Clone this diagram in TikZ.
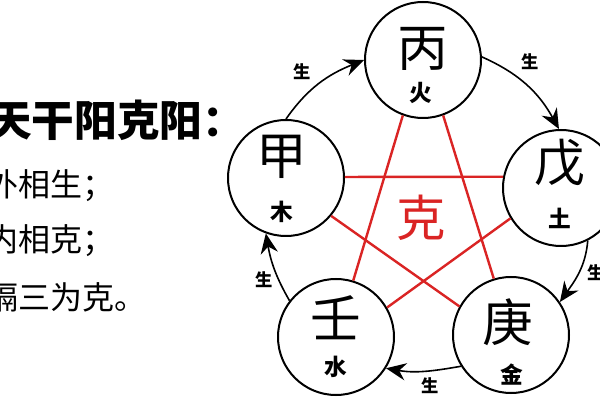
\documentclass[tikz,border=0pt]{standalone}
\usepackage{fontspec}
\newfontfamily\cjk{Noto Sans CJK SC}
\usetikzlibrary{arrows.meta}
\definecolor{kered}{HTML}{DA2424}
\begin{document}
\begin{tikzpicture}[x=0.75pt,y=0.75pt,
  every node/.style={font=\cjk, inner sep=0pt},
  elem/.style={draw=black, line width=1.5pt, circle, minimum size=87pt},
  bigch/.style={font=\cjk\fontsize{38pt}{38pt}\selectfont},
  smallch/.style={font=\cjk\bfseries\fontsize{17pt}{17pt}\selectfont},
  sheng/.style={font=\cjk\bfseries\fontsize{13pt}{13pt}\selectfont},
  genarrow/.style={draw=black, line width=1.2pt, -{Stealth[length=15pt,width=13pt,inset=5pt]}},
  kline/.style={draw=kered, line width=1.8pt},
  leftline/.style={anchor=west, font=\cjk\fontsize{24pt}{24pt}\selectfont}
]
\useasboundingbox (0,0) rectangle (600,400);
\fill[white] (0,0) rectangle (600,400);

% circles
\node[elem] (bing) at (423,340) {};
\node[elem] (jia)  at (286,222) {};
\node[elem] (wu)   at (561,212) {};
\node[elem] (ren)  at (336,63) {};
\node[elem] (geng) at (511,65) {};

% red pentagram
\draw[kline] (bing.-110) -- (ren.73);
\draw[kline] (bing.-70) -- (geng.107);
\draw[kline] (jia.1) -- (wu.169);
\draw[kline] (jia.-40) -- (geng.151);
\draw[kline] (wu.-149) -- (ren.30);

% characters
\node[bigch] (bingc) at (423,351) {丙};
\node[smallch] (binge) at (421,307) {火};
\node[bigch] (jiac) at (282,243) {甲};
\node[smallch] (jiae) at (282,188) {木};
\node[bigch] (wuc) at (560,237) {戊};
\node[smallch] (wue) at (560,182) {土};
\node[bigch] (renc) at (336,82) {壬};
\node[smallch] (rene) at (336,33) {水};
\node[bigch] (gengc) at (508,78) {庚};
\node[smallch] (innge) at (512,25) {金};
\node[font=\cjk\fontsize{37pt}{37pt}\selectfont, text=kered] (ke) at (421,182) {克};

% generating arrows
\draw[genarrow] (jia.90) to[out=55,in=202] (bing.180);
\draw[genarrow] (bing.3) to[out=-24,in=119] (wu.92);
\draw[genarrow] (wu.-63) to[out=-95,in=55] (geng.34);
\draw[genarrow] (geng.-148) to[out=190,in=-10] (ren.-32);
\draw[genarrow] (ren.142) to[out=120,in=-80] (jia.-110);

% labels
\node[sheng] (s1) at (302,328) {生};
\node[sheng] (s2) at (530,338) {生};
\node[sheng] (s3) at (596,127) {生};
\node[sheng] (s4) at (430,14) {生};
\node[sheng] (s5) at (264,120) {生};

% left text
\node[anchor=west, font=\cjk\bfseries\fontsize{32pt}{32pt}\selectfont] (title) at (-11,280) {天干阳克阳：};
\node[leftline] (l1) at (-14,214) {外相生；};
\node[leftline] (l2) at (-14,159) {内相克；};
\node[leftline] (l3) at (-14,103) {隔三为克。};
\end{tikzpicture}
\end{document}
